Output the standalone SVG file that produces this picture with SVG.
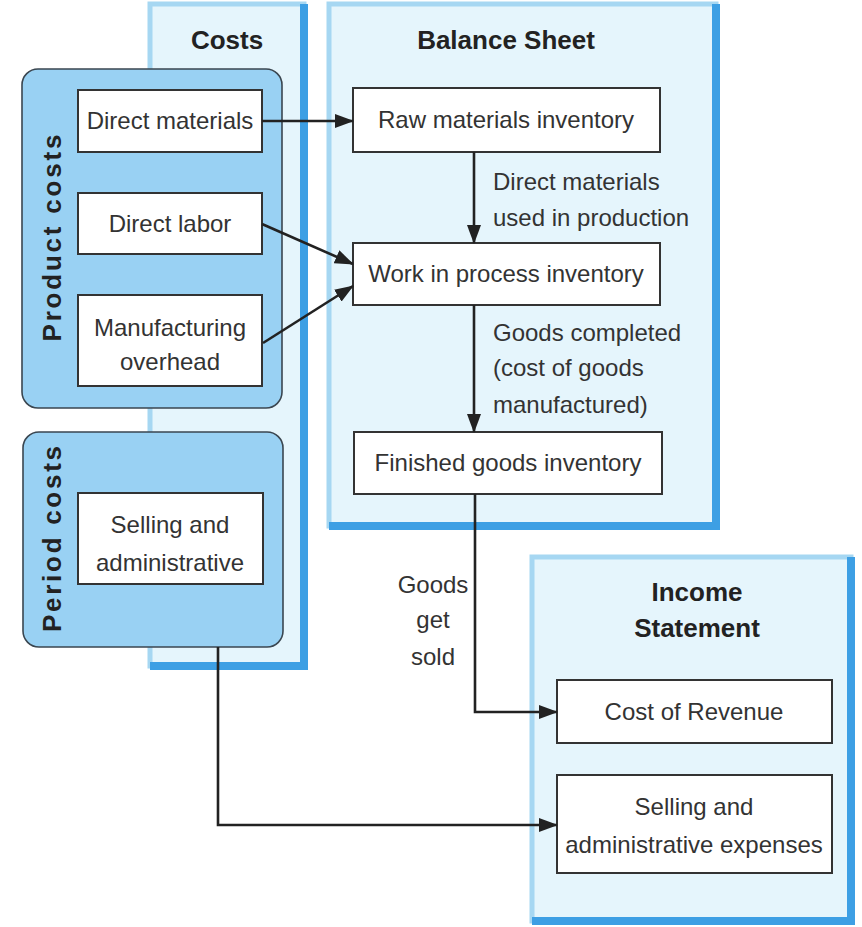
<svg xmlns="http://www.w3.org/2000/svg" width="862" height="927" viewBox="0 0 862 927">
<style>
.panel{fill:#e5f5fc;stroke:#a6d7f2;stroke-width:5}
.shadow{fill:none;stroke:#3d9fe4;stroke-width:8}
.group{fill:#99d1f3;stroke:#3a4650;stroke-width:1.6}
.box{fill:#ffffff;stroke:#333333;stroke-width:2}
.t{font-family:"Liberation Sans",Arial,sans-serif;font-size:24px;fill:#333333}
.c{text-anchor:middle}
.b{font-family:"Liberation Sans",Arial,sans-serif;font-size:26px;font-weight:bold;fill:#222222;text-anchor:middle}
.conn{fill:none;stroke:#222222;stroke-width:2.6;marker-end:url(#ah)}
</style>
<defs>
<marker id="ah" viewBox="0 0 19 14" refX="18" refY="7" markerWidth="19" markerHeight="14" markerUnits="userSpaceOnUse" orient="auto">
<path d="M0,0 L19,7 L0,14 z" fill="#222222"/>
</marker>
</defs>
<rect width="862" height="927" fill="#ffffff"/>

<g id="costs-panel">
<rect class="panel" x="150" y="4" width="154" height="662"/>
<path class="shadow" d="M304,4 V666 H150"/>
<text class="b" x="227" y="49">Costs</text>
</g>

<g id="balance-panel">
<rect class="panel" x="329" y="4" width="387" height="522"/>
<path class="shadow" d="M716,4 V526 H329"/>
<text class="b" x="506" y="49">Balance Sheet</text>
</g>

<g id="income-panel">
<rect class="panel" x="532" y="557" width="319" height="364"/>
<path class="shadow" d="M851,557 V921 H532"/>
<text class="b" x="697" y="601">Income</text>
<text class="b" x="697" y="637">Statement</text>
</g>

<g id="product-costs">
<rect class="group" x="22" y="69" width="260" height="339" rx="16"/>
<text class="b" transform="translate(61,238) rotate(-90)" textLength="207" lengthAdjust="spacing">Product costs</text>
</g>

<g id="period-costs">
<rect class="group" x="23" y="432" width="260" height="215" rx="16"/>
<text class="b" transform="translate(61,539) rotate(-90)" textLength="186" lengthAdjust="spacing">Period costs</text>
</g>

<g id="direct-materials">
<rect class="box" x="78" y="90" width="184" height="62"/>
<text class="t c" x="170" y="129">Direct materials</text>
</g>

<g id="direct-labor">
<rect class="box" x="78" y="193" width="184" height="61"/>
<text class="t c" x="170" y="232">Direct labor</text>
</g>

<g id="manufacturing-overhead">
<rect class="box" x="78" y="295" width="184" height="91"/>
<text class="t c" x="170" y="336">Manufacturing</text>
<text class="t c" x="170" y="370">overhead</text>
</g>

<g id="selling-admin">
<rect class="box" x="78" y="493" width="185" height="91"/>
<text class="t c" x="170" y="533">Selling and</text>
<text class="t c" x="170" y="571">administrative</text>
</g>

<g id="raw-materials">
<rect class="box" x="353" y="88" width="307" height="64"/>
<text class="t c" x="506" y="128">Raw materials inventory</text>
</g>

<g id="work-in-process">
<rect class="box" x="353" y="243" width="307" height="62"/>
<text class="t c" x="506" y="282">Work in process inventory</text>
</g>

<g id="finished-goods">
<rect class="box" x="354" y="432" width="308" height="62"/>
<text class="t c" x="508" y="471">Finished goods inventory</text>
</g>

<g id="cost-of-revenue">
<rect class="box" x="557" y="680" width="275" height="63"/>
<text class="t c" x="694" y="720">Cost of Revenue</text>
</g>

<g id="sa-expenses">
<rect class="box" x="557" y="775" width="275" height="98"/>
<text class="t c" x="694" y="815">Selling and</text>
<text class="t c" x="694" y="853">administrative expenses</text>
</g>

<g id="connectors">
<path class="conn" d="M262,121 H353"/>
<path class="conn" d="M262,224 L353,264"/>
<path class="conn" d="M263,343 L353,286"/>
<path class="conn" d="M474,152 V243"/>
<path class="conn" d="M474,305 V432"/>
<path class="conn" d="M475,494 V712 H557"/>
<path class="conn" d="M218,647 V825 H557"/>
<text class="t" x="493" y="190">Direct materials</text>
<text class="t" x="493" y="226">used in production</text>
<text class="t" x="493" y="341">Goods completed</text>
<text class="t" x="493" y="376">(cost of goods</text>
<text class="t" x="493" y="413">manufactured)</text>
<text class="t c" x="433" y="593">Goods</text>
<text class="t c" x="433" y="628">get</text>
<text class="t c" x="433" y="665">sold</text>
</g>
</svg>
